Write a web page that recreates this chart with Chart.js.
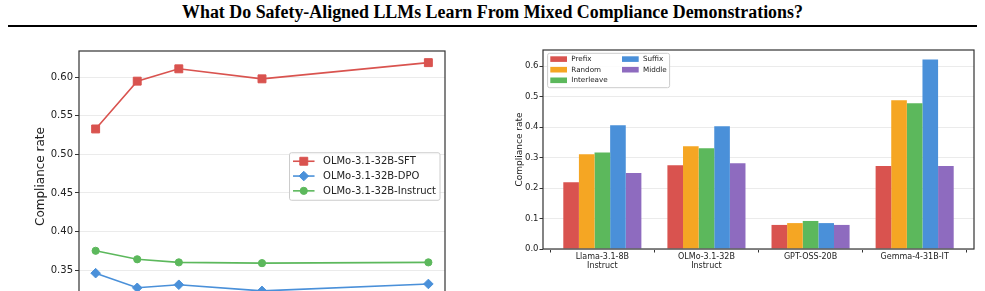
<!DOCTYPE html>
<html>
<head>
<meta charset="utf-8">
<script src="https://cdn.jsdelivr.net/npm/chart.js@4.4.1/dist/chart.umd.min.js"></script>
<style>
    html, body { margin: 0; padding: 0; width: 985px; height: 291px; overflow: hidden; background: #fff; }
    #titulo {
        position: absolute; left: 0; top: 2px; width: 985px; text-align: center;
        font-family: "Liberation Serif", serif; font-weight: bold; font-size: 17.9px; color: #000;
    }
    #regua { position: absolute; left: 8px; top: 25px; width: 969px; height: 2px; background: #000; }
    #grafico-linha { position: absolute; left: 0; top: 0; }
    #grafico-barra { position: absolute; left: 490px; top: 40px; }
</style>
</head>
<body>
<div id="titulo">What Do Safety-Aligned LLMs Learn From Mixed Compliance Demonstrations?</div>
<div id="regua"></div>
<canvas id="grafico-linha" width="470" height="310"></canvas>
<canvas id="grafico-barra" width="495" height="251"></canvas>
<script>
// dados do grafico de linhas (esquerda)
const passos = [1, 2, 3, 5, 9];
const sftValores = [0.533, 0.595, 0.611, 0.598, 0.619];
const dpoValores = [0.346, 0.327, 0.331, 0.323, 0.332];
const instructValores = [0.375, 0.364, 0.360, 0.359, 0.360];
const ticksLinha = [0.35, 0.40, 0.45, 0.50, 0.55, 0.60];

// dados do grafico de barras (direita)
const modelos = [['Llama-3.1-8B', 'Instruct'], ['OLMo-3.1-32B', 'Instruct'], 'GPT-OSS-20B', 'Gemma-4-31B-IT'];
const prefixValores = [0.219, 0.275, 0.079, 0.272];
const randomValores = [0.311, 0.337, 0.085, 0.488];
const interleaveValores = [0.317, 0.331, 0.092, 0.478];
const suffixValores = [0.406, 0.403, 0.085, 0.622];
const middleValores = [0.249, 0.281, 0.079, 0.272];
const ticksBarra = [0, 0.1, 0.2, 0.3, 0.4, 0.5, 0.6];

const vermelho = '#d9534f';
const laranja = '#f5a623';
const verde = '#5cb85c';
const azul = '#4a90d9';
const roxo = '#8e6bbf';

Chart.defaults.font.family = '"DejaVu Sans", sans-serif';
Chart.defaults.color = '#222';

const moldura = {
    id: 'moldura',
    afterDatasetsDraw(chart) {
        const { ctx, chartArea: a } = chart;
        ctx.save();
        ctx.strokeStyle = '#333';
        ctx.lineWidth = 1.2;
        ctx.strokeRect(a.left, a.top, a.right - a.left, a.bottom - a.top);
        ctx.restore();
    }
};

function pontos(valores) {
    return valores.map((v, i) => ({ x: passos[i], y: v }));
}

const legendaLinha = {
    id: 'legendaLinha',
    afterDraw(chart) {
        const { ctx, chartArea: a } = chart;
        const sets = chart.data.datasets;
        ctx.save();
        ctx.font = '10px "DejaVu Sans"';
        const larg = Math.max(...sets.map(d => ctx.measureText(d.label).width));
        const w = 3.5 + 21.5 + 8.5 + larg + 4;
        const h = 47.5;
        const x0 = a.right - 5 - w;
        const y0 = (a.top + a.bottom) / 2 - h / 2;
        ctx.fillStyle = 'rgba(255,255,255,0.85)';
        ctx.strokeStyle = '#ccc';
        ctx.lineWidth = 1;
        ctx.beginPath();
        ctx.roundRect(x0, y0, w, h, 2);
        ctx.fill();
        ctx.stroke();
        sets.forEach((d, i) => {
            const y = y0 + 8.5 + i * 14.8;
            ctx.strokeStyle = d.borderColor;
            ctx.fillStyle = d.borderColor;
            ctx.lineWidth = 1.6;
            ctx.beginPath();
            ctx.moveTo(x0 + 3.5, y);
            ctx.lineTo(x0 + 25, y);
            ctx.stroke();
            ctx.lineWidth = 1;
            Chart.helpers.drawPoint(ctx, { pointStyle: d.pointStyle, radius: d.pointRadius, rotation: 0, borderWidth: 1 }, x0 + 14.25, y);
            ctx.fillStyle = '#222';
            ctx.textBaseline = 'middle';
            ctx.fillText(d.label, x0 + 33.5, y + 0.5);
        });
        ctx.restore();
    }
};

const ctxLine = document.getElementById('grafico-linha').getContext('2d');
const graficoLinha = new Chart(ctxLine, {
    type: 'line',
    data: {
        datasets: [
            { label: 'OLMo-3.1-32B-SFT', data: pontos(sftValores), borderColor: vermelho, backgroundColor: vermelho, pointStyle: 'rect', pointRadius: 5.6 },
            { label: 'OLMo-3.1-32B-DPO', data: pontos(dpoValores), borderColor: azul, backgroundColor: azul, pointStyle: 'rectRot', pointRadius: 4.8 },
            { label: 'OLMo-3.1-32B-Instruct', data: pontos(instructValores), borderColor: verde, backgroundColor: verde, pointStyle: 'circle', pointRadius: 3.6 }
        ]
    },
    options: {
        responsive: false,
        animation: false,
        devicePixelRatio: 1,
        layout: { padding: { left: 0, top: 51, right: 25, bottom: 7 } },
        elements: {
            line: { borderWidth: 1.6, tension: 0 },
            point: { borderWidth: 1, hoverRadius: 5 }
        },
        plugins: { legend: { display: false }, tooltip: { enabled: false } },
        scales: {
            x: { type: 'linear', min: 0.6, max: 9.4, display: false },
            y: {
                min: 0.3086,
                max: 0.6341,
                afterFit: scale => { scale.width = 79; },
                afterBuildTicks: scale => { scale.ticks = ticksLinha.map(v => ({ value: v })); },
                ticks: { font: { size: 10 }, padding: 2, callback: v => v.toFixed(2) },
                grid: { color: '#ebebeb', tickLength: 4, tickColor: '#333' },
                border: { display: false },
                title: { display: true, text: 'Compliance rate', font: { size: 12 }, padding: { top: 34, bottom: 0 } }
            }
        }
    },
    plugins: [moldura, legendaLinha]
});

const legendaBarra = {
    id: 'legendaBarra',
    afterDraw(chart) {
        const { ctx, chartArea: a } = chart;
        const sets = chart.data.datasets;
        const x0 = a.left + 4.6;
        const y0 = a.top + 3.3;
        ctx.save();
        ctx.fillStyle = 'rgba(255,255,255,0.85)';
        ctx.strokeStyle = '#ccc';
        ctx.lineWidth = 1;
        ctx.beginPath();
        ctx.roundRect(x0, y0, 122, 34.4, 2);
        ctx.fill();
        ctx.stroke();
        ctx.font = '7.2px "DejaVu Sans"';
        ctx.textBaseline = 'middle';
        sets.forEach((d, i) => {
            const col = i < 3 ? 0 : 1;
            const lin = i < 3 ? i : i - 3;
            const xs = x0 + 2.7 + col * 71.7;
            const y = y0 + 5.8 + lin * 10.6;
            ctx.fillStyle = d.backgroundColor;
            ctx.fillRect(xs, y - 2.8, 16.7, 5.6);
            ctx.fillStyle = '#222';
            ctx.fillText(d.label, xs + 21, y + 0.3);
        });
        ctx.restore();
    }
};

function barras(valores) {
    return valores.map((v, i) => ({ x: i, y: v }));
}

const ctxBar = document.getElementById('grafico-barra').getContext('2d');
const graficoBarra = new Chart(ctxBar, {
    type: 'bar',
    data: {
        datasets: [
            { label: 'Prefix', data: barras(prefixValores), backgroundColor: vermelho },
            { label: 'Random', data: barras(randomValores), backgroundColor: laranja },
            { label: 'Interleave', data: barras(interleaveValores), backgroundColor: verde },
            { label: 'Suffix', data: barras(suffixValores), backgroundColor: azul },
            { label: 'Middle', data: barras(middleValores), backgroundColor: roxo }
        ]
    },
    options: {
        responsive: false,
        animation: false,
        devicePixelRatio: 1,
        layout: { padding: { left: 0, top: 10, right: 11, bottom: 0 } },
        datasets: { bar: { categoryPercentage: 0.75, barPercentage: 1.0, borderWidth: 0 } },
        plugins: { legend: { display: false }, tooltip: { enabled: false } },
        scales: {
            x: {
                type: 'linear',
                min: -0.57,
                max: 3.57,
                offset: false,
                afterFit: scale => { scale.height = 42; },
                afterBuildTicks: scale => { scale.ticks = modelos.map((m, i) => ({ value: i })); },
                ticks: { font: { size: 8, lineHeight: 1.1 }, padding: 0, maxRotation: 0, callback: v => modelos[v] },
                grid: { drawOnChartArea: false, tickLength: 3.5, tickColor: '#333' },
                border: { display: false }
            },
            y: {
                min: 0,
                max: 0.653,
                afterFit: scale => { scale.width = 53; },
                afterBuildTicks: scale => { scale.ticks = ticksBarra.map(v => ({ value: v })); },
                ticks: { font: { size: 8.5 }, padding: 1, callback: v => v.toFixed(1) },
                grid: { color: '#ebebeb', tickLength: 3.5, tickColor: '#333' },
                border: { display: false },
                title: { display: true, text: 'Compliance rate', font: { size: 9 }, padding: { top: 24, bottom: 0 } }
            }
        }
    },
    plugins: [moldura, legendaBarra]
});
</script>
</body>
</html>
